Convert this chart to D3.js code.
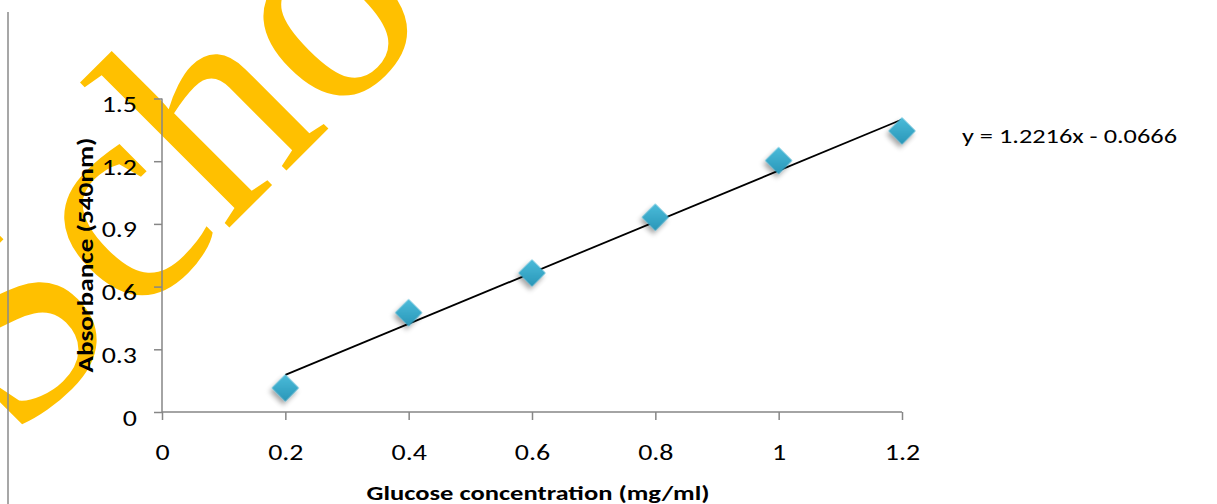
<!DOCTYPE html>
<html>
<head>
<meta charset="utf-8">
<script src="https://cdn.jsdelivr.net/npm/d3@7"></script>
<style>
  body { margin: 0; background: #fff; }
  text { font-family: Carlito, "Open Sans", "Liberation Sans", sans-serif; }
</style>
</head>
<body>
<svg id="svg" width="1217" height="504"></svg>
<script>
// glucose standard curve
var concentration = [0.2, 0.4, 0.6, 0.8, 1.0, 1.2];
var absorbance = [0.115, 0.475, 0.665, 0.932, 1.203, 1.345];
var xTicks = [0, 0.2, 0.4, 0.6, 0.8, 1, 1.2];
var yTicks = [0, 0.3, 0.6, 0.9, 1.2, 1.5];
var slope = 1.2216, intercept = -0.0666;
var equationLabel = "y = 1.2216x - 0.0666";
var xTitle = "Glucose concentration (mg/ml)";
var yTitle = "Absorbance  (540nm)";
var watermark = "Scho";

var svg = d3.select("#svg");

// the text in the original is drawn wider than the font, stretch it
function widen(sel, factor) {
  sel.each(function () {
    var len = this.getComputedTextLength();
    d3.select(this)
      .attr("textLength", len * factor)
      .attr("lengthAdjust", "spacingAndGlyphs");
  });
}

var defs = svg.append("defs");
var grad = defs.append("linearGradient")
  .attr("id", "markerFill")
  .attr("x1", "0").attr("y1", "0").attr("x2", "1").attr("y2", "1");
grad.append("stop").attr("offset", "0%").attr("stop-color", "#4cbcda");
grad.append("stop").attr("offset", "100%").attr("stop-color", "#2896b8");
var shadow = defs.append("filter").attr("id", "shadow")
  .attr("x", "-50%").attr("y", "-50%").attr("width", "200%").attr("height", "200%");
shadow.append("feDropShadow")
  .attr("dx", 1).attr("dy", 4).attr("stdDeviation", 2.5)
  .attr("flood-color", "#000").attr("flood-opacity", 0.35);

var x = d3.scaleLinear().domain([0, 1.2]).range([162, 902]);
var y = d3.scaleLinear().domain([0, 1.5]).range([412, 98.5]);

// watermark sits behind the chart
svg.append("text")
  .attr("transform", "translate(13,444) rotate(-45)")
  .style("font-family", '"Liberation Serif", "DejaVu Serif", serif')
  .attr("font-size", 300)
  .attr("fill", "#ffc000")
  .text(watermark);

// left border line
svg.append("line")
  .attr("x1", 8).attr("x2", 8).attr("y1", 12).attr("y2", 504)
  .attr("stroke", "#8a8a8a").attr("stroke-width", 1.5);

var g = svg.append("g");

g.append("g")
  .attr("transform", "translate(0," + y(0) + ")")
  .call(d3.axisBottom(x).tickValues(xTicks).tickSize(8).tickPadding(24)
    .tickFormat(function (d) { return String(d); }))
  .call(function (a) {
    a.selectAll("path, line").attr("stroke", "#868686").attr("stroke-width", 1.5);
    a.select(".domain").attr("d", "M" + x(0) + ",0H" + x(1.2));
    a.selectAll("text").attr("font-size", 22).attr("fill", "#000")
      .style("font-family", 'Carlito, "Open Sans", sans-serif');
  });

g.append("g")
  .attr("transform", "translate(" + x(0) + ",0)")
  .call(d3.axisLeft(y).tickValues(yTicks).tickSize(8).tickPadding(17)
    .tickFormat(function (d) { return String(d); }))
  .call(function (a) {
    a.selectAll("path, line").attr("stroke", "#868686").attr("stroke-width", 1.5);
    a.select(".domain").attr("d", "M0," + y(0) + "V" + y(1.5));
    a.selectAll("text").attr("font-size", 22).attr("fill", "#000").attr("y", 6)
      .style("font-family", 'Carlito, "Open Sans", sans-serif');
  });

widen(g.selectAll(".tick text"), 1.27);

// trendline
g.append("line")
  .attr("x1", x(0.2)).attr("y1", y(slope * 0.2 + intercept))
  .attr("x2", x(1.2)).attr("y2", y(slope * 1.2 + intercept))
  .attr("stroke", "#000").attr("stroke-width", 1.8);

// markers
var points = concentration.map(function (c, i) { return {x: c, y: absorbance[i]}; });
g.selectAll(".pt")
  .data(points)
  .enter()
  .append("path")
  .attr("class", "pt")
  .attr("d", d3.symbol().type(d3.symbolSquare).size(370))
  .attr("transform", function (d) {
    return "translate(" + x(d.x) + "," + y(d.y) + ") rotate(45)";
  })
  .attr("fill", "url(#markerFill)")
  .attr("filter", "url(#shadow)");

svg.append("text")
  .attr("x", 962).attr("y", 143)
  .attr("font-size", 21)
  .attr("textLength", 215)
  .attr("lengthAdjust", "spacingAndGlyphs")
  .text(equationLabel);

svg.append("text")
  .attr("x", 538).attr("y", 500)
  .attr("text-anchor", "middle")
  .attr("font-size", 21)
  .attr("font-weight", "bold")
  .attr("textLength", 343)
  .attr("lengthAdjust", "spacingAndGlyphs")
  .text(xTitle);

svg.append("text")
  .attr("transform", "translate(93,255) rotate(-90)")
  .attr("text-anchor", "middle")
  .attr("font-size", 22)
  .attr("font-weight", "bold")
  .attr("textLength", 235)
  .attr("lengthAdjust", "spacingAndGlyphs")
  .text(yTitle);
</script>
</body>
</html>
